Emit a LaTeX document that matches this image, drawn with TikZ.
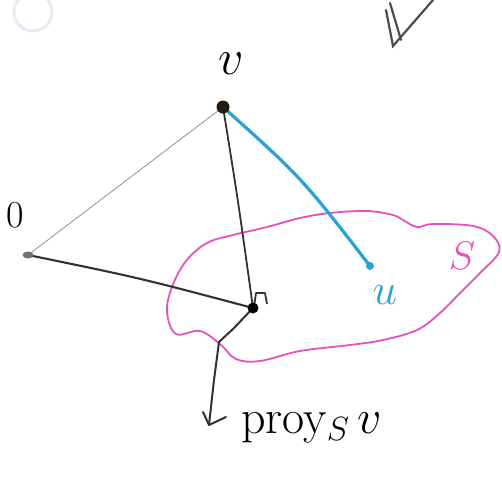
\RequirePackage{fix-cm}
\documentclass[tikz,border=0pt]{standalone}
\usetikzlibrary{arrows.meta}
\definecolor{inkblue}{RGB}{40,162,215}
\definecolor{inkpink}{RGB}{232,80,190}
\definecolor{ink}{RGB}{50,50,50}
\definecolor{faint}{RGB}{232,234,244}
\tikzset{
  lbl/.style={inner sep=0pt, font=\fontsize{#1}{#1}\selectfont},
  dotpt/.style={fill=#1, draw=none},
  heavy/.style={draw=ink, line width=2.1pt},
  thinln/.style={draw=black!40, line width=0.9pt},
  blueln/.style={draw=inkblue, line width=3.2pt},
  blob/.style={draw=inkpink, line width=1.8pt},
  tick/.style={draw=black!70, line width=2.2pt, line cap=round}
}
\begin{document}
\begin{tikzpicture}[x=1pt,y=-1pt]
\useasboundingbox (0,0) rectangle (502,483);
% faint circle (top-left)
\draw[faint, line width=3pt] (33,12) circle (19);
% check mark (top-right)
\draw[tick] (386,10) -- (393,46) -- (433,0);
\draw[tick] (390,3) -- (401,40);
% points
\coordinate (v) at (223,107);
\coordinate (o) at (28,255);
\coordinate (p) at (253,308);
\coordinate (u) at (370,266);
\coordinate (tip) at (209,425);
% subspace S
\draw[blob] plot[smooth cycle, tension=0.6] coordinates {
 (207,243) (233,235) (267,227) (300,218) (330,213) (367,211) (393,215)
 (403,220) (417,227) (433,224) (473,226) (493,236) (499,252) (480,273)
 (460,293) (440,313) (417,330) (383,340) (350,345) (300,351) (260,361)
 (236,359) (220,344) (200,331) (176,334) (167,312) (172,287) (186,261)};
% connectors
\draw[thinln] (v) -- (o);
\draw[heavy] (o) .. controls (140,278) .. (p);
\draw[heavy, line width=1.8pt] (v) .. controls (238,200) .. (p);
\draw[blueln] (v) .. controls (302,178) .. (u);
\draw[ink, line width=2pt, line join=round] (p) -- (234,328) -- (219,342) -- (214,380) -- (tip);
\draw[ink, line width=2pt, line cap=round, line join=round] (203,412) -- (tip) -- (226,417);
% right angle mark
\draw[ink, line width=1.8pt, line join=round] (254,307) -- (256,293) -- (265,293) -- (267,304);
% dots
\fill[dotpt={black!80!brown}] (v) circle (6.5);
\fill[dotpt={black!55}] (o) ellipse (5.5 and 3.5);
\fill[dotpt=black] (p) circle (5.5);
\fill[dotpt=inkblue] (u) circle (4);
% labels
\node[lbl=50] (lv) at (231,64) {$v$};
\node[lbl=38] (lo) at (15,215) {0};
\node[lbl=44, text=inkblue] (lu) at (385,295) {$u$};
\node[lbl=40, text=inkpink] (ls) at (462,256) {$S$};
\node[lbl=48, anchor=base west] (lp) at (241,433) {proy$_S\,v$};
\end{tikzpicture}
\end{document}
